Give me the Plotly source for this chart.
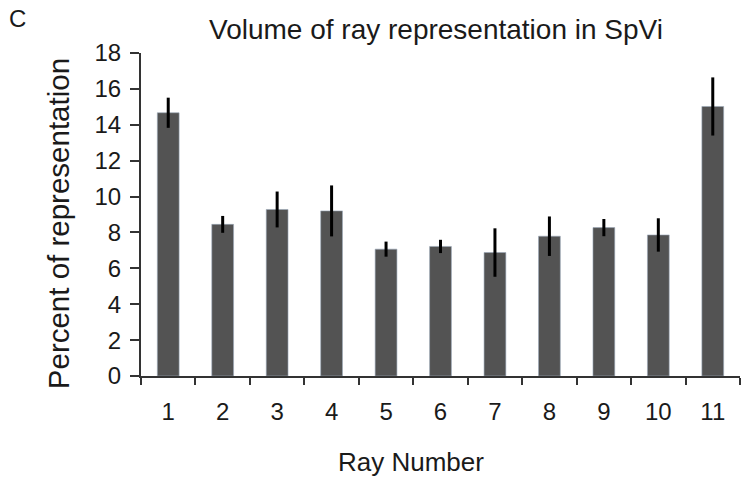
import plotly.graph_objects as go

rays = ["1", "2", "3", "4", "5", "6", "7", "8", "9", "10", "11"]
percent = [14.67, 8.45, 9.28, 9.2, 7.07, 7.22, 6.88, 7.79, 8.27, 7.86, 15.02]
err = [0.84, 0.47, 1.0, 1.42, 0.42, 0.37, 1.35, 1.1, 0.48, 0.93, 1.62]

FONT = "Liberation Sans, Arial, Helvetica, sans-serif"

fig = go.Figure()
fig.add_trace(go.Bar(
    x=rays, y=percent,
    marker=dict(color="#535353", line=dict(color="#9aa8b8", width=0.6)),
    width=0.4,
    error_y=dict(type="data", array=err, visible=True, color="#000000",
                 thickness=3, width=0),
))

fig.update_layout(
    width=751, height=486,
    margin=dict(l=141, r=11, t=53, b=110),
    paper_bgcolor="white", plot_bgcolor="white",
    showlegend=False,
    font=dict(family=FONT, color="#1a1a1a"),
    xaxis=dict(
        type="category", tickson="boundaries", ticks="outside", ticklen=7,
        tickwidth=2, tickcolor="#333333", showline=True, linecolor="#333333",
        linewidth=2, showgrid=False, tickfont=dict(size=24, family=FONT),
        range=[-0.5, 10.5], ticklabelstandoff=13,
    ),
    yaxis=dict(
        range=[0, 18], dtick=2, ticks="outside", ticklen=9, tickwidth=2,
        tickcolor="#333333", showline=True, linecolor="#333333", linewidth=2,
        showgrid=False, zeroline=False, tickfont=dict(size=24, family=FONT),
        ticklabelstandoff=4,
    ),
    annotations=[
        dict(text="Volume of ray representation in SpVi", xref="paper", yref="paper",
             x=0.493, y=1.0, yshift=24, xanchor="center", yanchor="middle",
             showarrow=False, font=dict(size=28, family=FONT, color="#1a1a1a")),
        dict(text="Ray Number", xref="paper", yref="paper",
             x=0.45, y=0, yshift=-86, xanchor="center", yanchor="middle",
             showarrow=False, font=dict(size=26, family=FONT, color="#1a1a1a")),
        dict(text="Percent of representation", xref="paper", yref="paper",
             x=0, xshift=-83, y=0.47, xanchor="center", yanchor="middle",
             textangle=-90, showarrow=False,
             font=dict(size=29.5, family=FONT, color="#1a1a1a")),
        dict(text="C", xref="paper", yref="paper",
             x=0, xshift=-134, y=1.0, yshift=35, xanchor="left", yanchor="middle",
             showarrow=False, font=dict(size=24, family=FONT, color="#1a1a1a")),
    ],
)

fig.write_html("out.html", config={"displayModeBar": False},
               post_script="document.body.style.margin='0';")
